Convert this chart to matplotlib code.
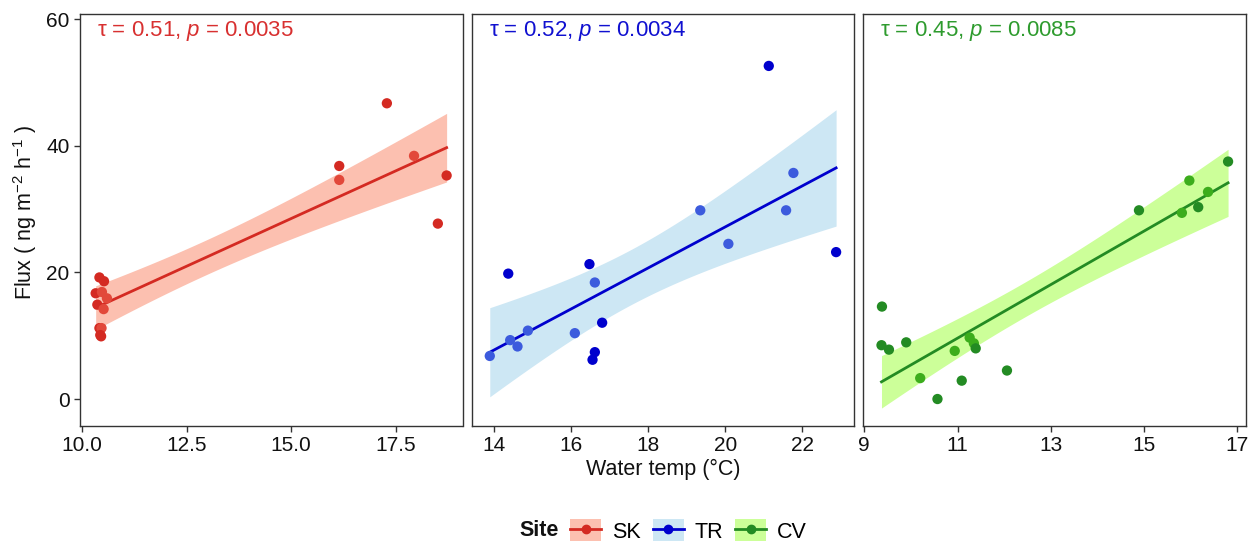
import numpy as np
import matplotlib
matplotlib.use('Agg')
import matplotlib.pyplot as plt
from matplotlib.lines import Line2D
from matplotlib.patches import Patch

plt.rcParams['font.family'] = ['Liberation Sans', 'DejaVu Sans']
plt.rcParams['mathtext.fontset'] = 'custom'
plt.rcParams['mathtext.rm'] = 'Liberation Sans'
plt.rcParams['mathtext.it'] = 'Liberation Sans:italic'

# data (water temp degC, flux ng m-2 h-1)
sk_temp = [17.29, 16.15, 16.15, 17.94, 18.72, 18.51, 10.41, 10.52, 10.32, 10.47,
           10.59, 10.36, 10.51, 10.41, 10.46, 10.43, 10.45]
sk_flux = [46.7, 36.8, 34.6, 38.4, 35.3, 27.7, 19.2, 18.6, 16.7, 16.9,
           15.9, 14.9, 14.2, 11.2, 11.2, 10.1, 9.9]
sk_light = [0, 0, 1, 1, 0, 0, 0, 0, 0, 1, 1, 0, 1, 0, 1, 0, 0]

tr_temp = [21.13, 21.77, 19.35, 21.58, 20.08, 22.88, 14.36, 16.47, 16.61, 16.80,
           16.09, 14.87, 14.41, 14.60, 13.88, 16.61, 16.55]
tr_flux = [52.6, 35.7, 29.8, 29.8, 24.5, 23.2, 19.8, 21.3, 18.4, 12.05,
           10.4, 10.8, 9.3, 8.3, 6.8, 7.4, 6.2]
tr_light = [0, 1, 1, 1, 1, 0, 0, 0, 1, 0, 1, 1, 1, 1, 1, 0, 0]

cv_temp = [9.38, 9.37, 9.53, 9.90, 10.20, 10.57, 10.94, 11.09, 11.26, 11.35,
           11.39, 12.06, 14.89, 15.81, 15.97, 16.16, 16.37, 16.80]
cv_flux = [14.6, 8.5, 7.8, 8.95, 3.3, 0.0, 7.6, 2.9, 9.7, 8.8,
           8.0, 4.5, 29.8, 29.4, 34.5, 30.3, 32.7, 37.5]
cv_light = [0, 0, 0, 0, 1, 0, 1, 0, 1, 1, 0, 0, 0, 1, 1, 0, 1, 0]

sites = ['SK', 'TR', 'CV']
stats = ['\u03c4 = 0.51, $p$ = 0.0035', '\u03c4 = 0.52, $p$ = 0.0034', '\u03c4 = 0.45, $p$ = 0.0085']
x_ticks = [[10.0, 12.5, 15.0, 17.5], [14, 16, 18, 20, 22], [9, 11, 13, 15, 17]]
x_ticklabels = [['10.0', '12.5', '15.0', '17.5'], ['14', '16', '18', '20', '22'],
                ['9', '11', '13', '15', '17']]
x_lims = [(9.945, 19.10), (13.41, 23.35), (8.98, 17.18)]

line_col = ['#D42A22', '#0000CD', '#238B23']
light_col = ['#E2483A', '#3C5BDD', '#3CAD1C']
band_col = ['#FCC0B0', '#CDE7F4', '#CCFF99']
text_col = ['#D83030', '#1010D0', '#2E9B2E']

t_crit = {15: 2.131, 16: 2.120, 17: 2.110, 18: 2.101}

data = [(sk_temp, sk_flux, sk_light), (tr_temp, tr_flux, tr_light), (cv_temp, cv_flux, cv_light)]

fig = plt.figure(figsize=(12.48, 5.44), dpi=100)
lefts = [80 / 1248, 471.7 / 1248, 863.3 / 1248]
w = 382.5 / 1248
bottom = 1 - 426 / 544
h = 412 / 544

for i, (xs, ys, lt) in enumerate(data):
    ax = fig.add_axes([lefts[i], bottom, w, h])
    x = np.array(xs)
    y = np.array(ys)
    n = len(x)
    # lm fit with 95% confidence band (like geom_smooth(method='lm'))
    b1, b0 = np.polyfit(x, y, 1)
    res = y - (b0 + b1 * x)
    s = np.sqrt(np.sum(res ** 2) / (n - 2))
    xg = np.linspace(x.min(), x.max(), 100)
    se = s * np.sqrt(1 / n + (xg - x.mean()) ** 2 / np.sum((x - x.mean()) ** 2))
    tc = t_crit.get(n - 2, 2.1)
    yg = b0 + b1 * xg
    ax.fill_between(xg, yg - tc * se, yg + tc * se, color=band_col[i], lw=0, zorder=1)
    ax.plot(xg, yg, color=line_col[i], lw=2.0, zorder=3)
    cols = [light_col[i] if l else line_col[i] for l in lt]
    ax.scatter(x, y, s=55, c=cols, edgecolors='none', zorder=4)

    ax.set_xlim(*x_lims[i])
    ax.set_ylim(-4.26, 60.8)
    ax.set_xticks(x_ticks[i])
    ax.set_xticklabels(x_ticklabels[i])
    if i == 0:
        ax.set_yticks([0, 20, 40, 60])
    else:
        ax.set_yticks([])
    ax.tick_params(labelsize=15, colors='#333333', labelcolor='#111111', length=4, width=1)
    for sp in ax.spines.values():
        sp.set_color('#333333')
        sp.set_linewidth(1.0)
    ax.text(0.044, 0.958, stats[i], transform=ax.transAxes, color=text_col[i],
            fontsize=16, va='center', ha='left')

fig.text(25 / 1248, 1 - 212 / 544, 'Flux ( ng m$^{-2}$ h$^{-1}$ )', rotation=90,
         ha='center', va='center', fontsize=15.5, color='#111111')
fig.text(663 / 1248, 1 - 469 / 544, 'Water temp (\u00b0C)', ha='center', va='center',
         fontsize=15.5, color='#111111')

# legend
handles = [(Patch(facecolor=band_col[i], edgecolor='none'),
            Line2D([], [], color=line_col[i], lw=2, marker='o', markersize=6))
           for i in range(3)]
fig.text(539 / 1248, 1 - 531 / 544, 'Site', fontsize=15.5, fontweight='bold',
         ha='center', va='center', color='#111111')
fig.legend(handles, sites, loc='center left', bbox_to_anchor=(555 / 1248, 1 - 531 / 544),
           ncol=3, frameon=False, fontsize=15.5, handlelength=1.45, handleheight=1.2,
           handletextpad=0.5, columnspacing=0.55, borderpad=0.2)

fig.savefig('out.png', dpi=100)
